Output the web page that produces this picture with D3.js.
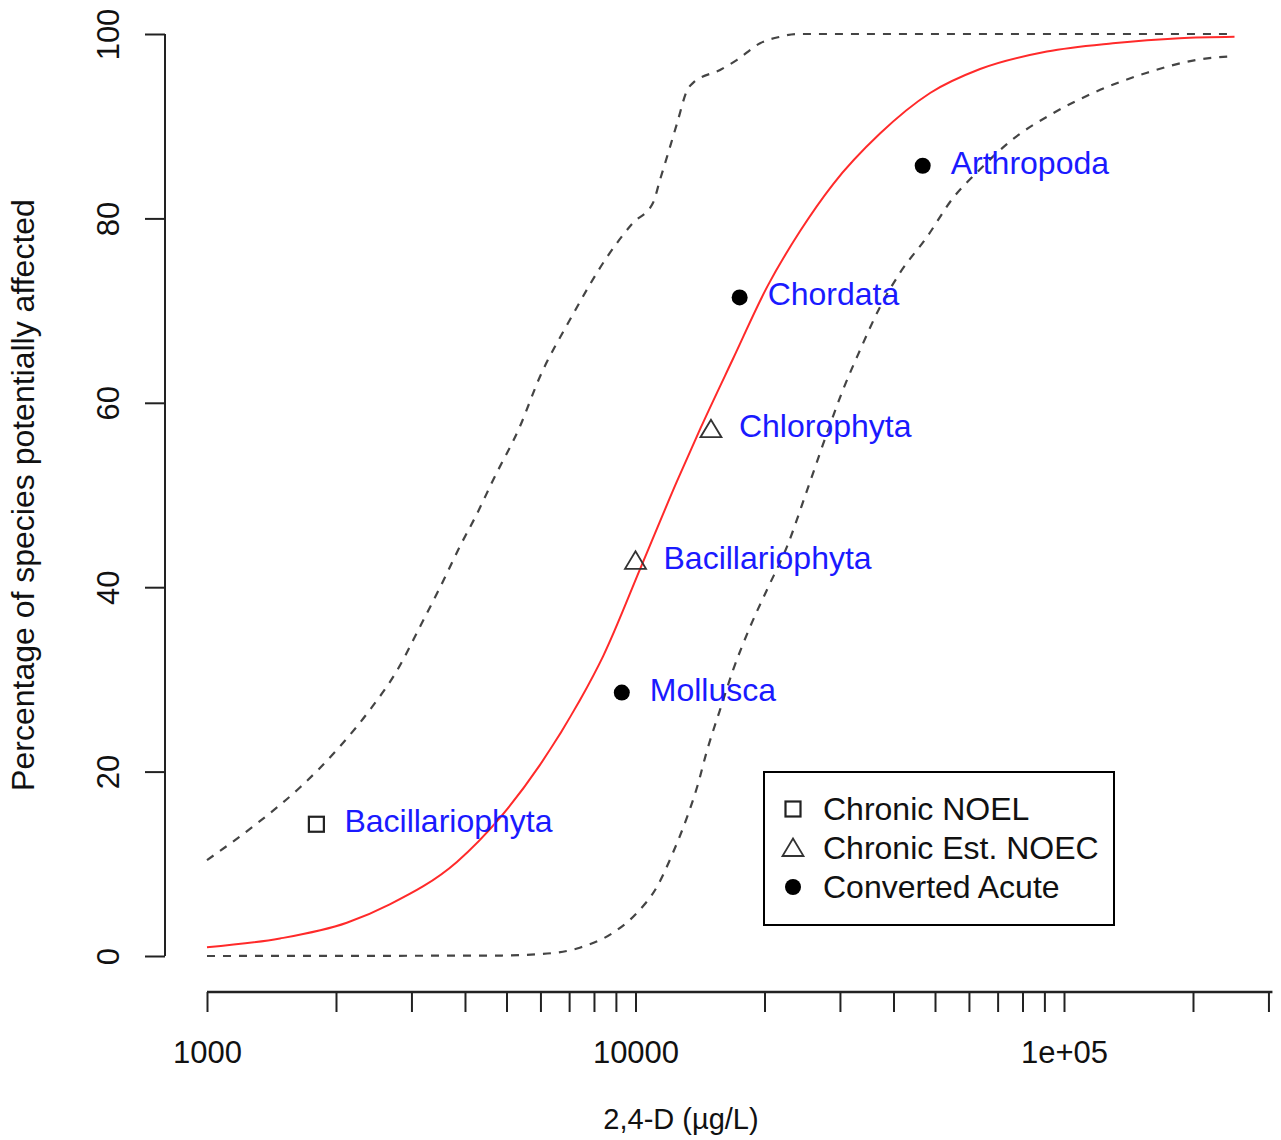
<!DOCTYPE html>
<html>
<head>
<meta charset="utf-8">
<script src="https://cdn.jsdelivr.net/npm/d3@7"></script>
<style>
  html, body { margin: 0; padding: 0; background: #fff; }
  svg { display: block; }
  text { font-family: "Liberation Sans", Arial, sans-serif; }
</style>
</head>
<body>
<svg id="chart" width="1281" height="1140"></svg>
<script>
// ---- data ----
const species = ["Bacillariophyta", "Mollusca", "Bacillariophyta", "Chlorophyta", "Chordata", "Arthropoda"];
const concentration = [1800, 9290, 10000, 15000, 17500, 46800];
const percentAffected = [14.29, 28.57, 42.86, 57.14, 71.43, 85.71];
const dataType = ["Chronic NOEL", "Converted Acute", "Chronic Est. NOEC", "Chronic Est. NOEC", "Converted Acute", "Converted Acute"];

const legendLabels = ["Chronic NOEL", "Chronic Est. NOEC", "Converted Acute"];

// fitted SSD curve (concentration, % affected)
const fitConc = [1000, 1480, 2120, 2670, 3830, 4830, 5980, 7410, 8400, 10300, 12500, 14200, 16900, 20300, 24200, 28900, 37200, 48700, 63700, 91200, 130000, 186000, 250000];
const fitPct  = [0.95, 1.9, 3.6, 5.6, 10.2, 15.0, 20.7, 27.7, 32.5, 42.2, 51.5, 57.3, 64.8, 72.6, 78.6, 83.7, 89.2, 93.6, 96.2, 98.1, 99.0, 99.55, 99.7];

// upper confidence limit
const upperConc = [1000, 1310, 1650, 2040, 2400, 2780, 3140, 3500, 3890, 4270, 4650, 5370, 5980, 7030, 8580, 9860, 10990, 11410, 11850, 12500, 13200, 13630, 15750, 17260, 19530, 21750, 23820, 250000];
const upperPct  = [10.4, 14.4, 18.3, 22.7, 26.7, 31.0, 35.7, 40.0, 44.4, 48.0, 51.6, 57.4, 62.8, 69.0, 75.8, 79.5, 81.7, 84.2, 86.7, 90.3, 93.9, 94.7, 96.1, 97.2, 99.0, 99.7, 100, 100];

// lower confidence limit
const lowerConc = [1000, 4830, 5980, 7410, 8850, 10090, 11220, 12230, 13200, 13920, 14690, 15750, 16890, 18510, 20260, 22570, 25140, 27980, 30490, 33410, 37220, 41430, 47900, 55060, 62670, 76030, 94240, 116900, 156300, 204300, 250000];
const lowerPct  = [0, 0.05, 0.2, 0.9, 2.5, 4.7, 7.5, 11.2, 15.1, 18.3, 22.3, 26.7, 31.0, 35.7, 39.7, 44.4, 50.5, 56.7, 61.4, 65.7, 70.4, 74.1, 78.0, 82.2, 85.0, 88.6, 91.4, 93.6, 95.8, 97.2, 97.6];

// axis ticks
const xTickValues = [1000, 2000, 3000, 4000, 5000, 6000, 7000, 8000, 9000, 10000, 20000, 30000, 40000, 50000, 60000, 70000, 80000, 90000, 100000, 200000, 300000];
const xTickLabelValues = [1000, 10000, 100000];
const xTickLabels = ["1000", "10000", "1e+05"];
const yTickValues = [0, 20, 40, 60, 80, 100];
const yTickLabels = ["0", "20", "40", "60", "80", "100"];

const xTitle = "2,4-D (\u00b5g/L)";
const yTitle = "Percentage of species potentially affected";

// ---- drawing ----
const svg = d3.select("#chart");
const x = d3.scaleLog().domain([1000, 100000]).range([207, 1064]);
const y = d3.scaleLinear().domain([0, 100]).range([956, 34]);
const FS = 31;

// Y axis
const yAxisG = svg.append("g").attr("transform", "translate(165,0)")
  .call(d3.axisLeft(y).tickValues(yTickValues).tickSize(20).tickFormat((d, i) => yTickLabels[i]));
yAxisG.select(".domain").attr("stroke", "#222").attr("stroke-width", 2)
  .attr("d", `M0,${y(0)}V${y(100)}`);
yAxisG.selectAll(".tick line").attr("stroke", "#222").attr("stroke-width", 2);
yAxisG.selectAll(".tick text")
  .attr("transform", "rotate(-90)")
  .attr("x", 0).attr("y", -46).attr("dy", null)
  .attr("text-anchor", "middle")
  .attr("font-size", FS).attr("fill", "#111")
  .style("font-family", "'Liberation Sans', Arial, sans-serif");

// X axis
const xAxisG = svg.append("g").attr("transform", "translate(0,992)")
  .call(d3.axisBottom(x).tickValues(xTickValues).tickSize(20)
    .tickFormat(d => { const k = xTickLabelValues.indexOf(d); return k >= 0 ? xTickLabels[k] : ""; }));
xAxisG.select(".domain").attr("stroke", "#222").attr("stroke-width", 2.5)
  .attr("d", `M${x(1000)},0H${x(300000) + 4}`);
xAxisG.selectAll(".tick line").attr("stroke", "#222").attr("stroke-width", 2);
xAxisG.selectAll(".tick text")
  .attr("y", 71).attr("dy", null)
  .attr("font-size", FS).attr("fill", "#111")
  .style("font-family", "'Liberation Sans', Arial, sans-serif");

// axis titles
svg.append("text").attr("x", 681).attr("y", 1129).attr("text-anchor", "middle")
  .attr("font-size", 29).attr("fill", "#111").text(xTitle);
svg.append("text").attr("transform", "translate(34,495) rotate(-90)").attr("text-anchor", "middle")
  .attr("font-size", 32).attr("fill", "#111").text(yTitle);

// lines
const line = d3.line().x(d => x(d[0])).y(d => y(d[1])).curve(d3.curveMonotoneX);
const fitData = fitConc.map((c, i) => [c, fitPct[i]]);
const upData = upperConc.map((c, i) => [c, upperPct[i]]);
const loData = lowerConc.map((c, i) => [c, lowerPct[i]]);

[upData, loData].forEach(dat => {
  svg.append("path").datum(dat).attr("d", line)
    .attr("fill", "none").attr("stroke", "#444").attr("stroke-width", 2.2)
    .attr("stroke-dasharray", "8,8");
});
svg.append("path").datum(fitData).attr("d", line)
  .attr("fill", "none").attr("stroke", "#ff2a2a").attr("stroke-width", 2);

// markers
function drawMarker(g, type, cx, cy) {
  if (type === "Chronic NOEL") {
    g.append("rect").attr("x", cx - 7.5).attr("y", cy - 7.5).attr("width", 15).attr("height", 15)
      .attr("fill", "none").attr("stroke", "#222").attr("stroke-width", 2.2);
  } else if (type === "Chronic Est. NOEC") {
    g.append("path").attr("d", `M${cx},${cy - 9.5}L${cx + 10.5},${cy + 8}L${cx - 10.5},${cy + 8}Z`)
      .attr("fill", "none").attr("stroke", "#333").attr("stroke-width", 1.8);
  } else {
    g.append("circle").attr("cx", cx).attr("cy", cy).attr("r", 8).attr("fill", "#000");
  }
}

const ptsG = svg.append("g");
species.forEach((s, i) => {
  const cx = x(concentration[i]), cy = y(percentAffected[i]);
  drawMarker(ptsG, dataType[i], cx, cy);
  ptsG.append("text").attr("x", cx + 28).attr("y", cy).attr("dy", "0.25em")
    .attr("font-size", FS + 1).attr("fill", "#1a1aff").text(s);
});

// legend
const lg = svg.append("g");
lg.append("rect").attr("x", 764).attr("y", 772).attr("width", 350).attr("height", 153)
  .attr("fill", "#fff").attr("stroke", "#000").attr("stroke-width", 2);
legendLabels.forEach((l, i) => {
  const cy = 809 + i * 39;
  drawMarker(lg, l, 793, cy);
  lg.append("text").attr("x", 823).attr("y", cy).attr("dy", "0.35em")
    .attr("font-size", FS + 1).attr("fill", "#111").text(l);
});
</script>
</body>
</html>
